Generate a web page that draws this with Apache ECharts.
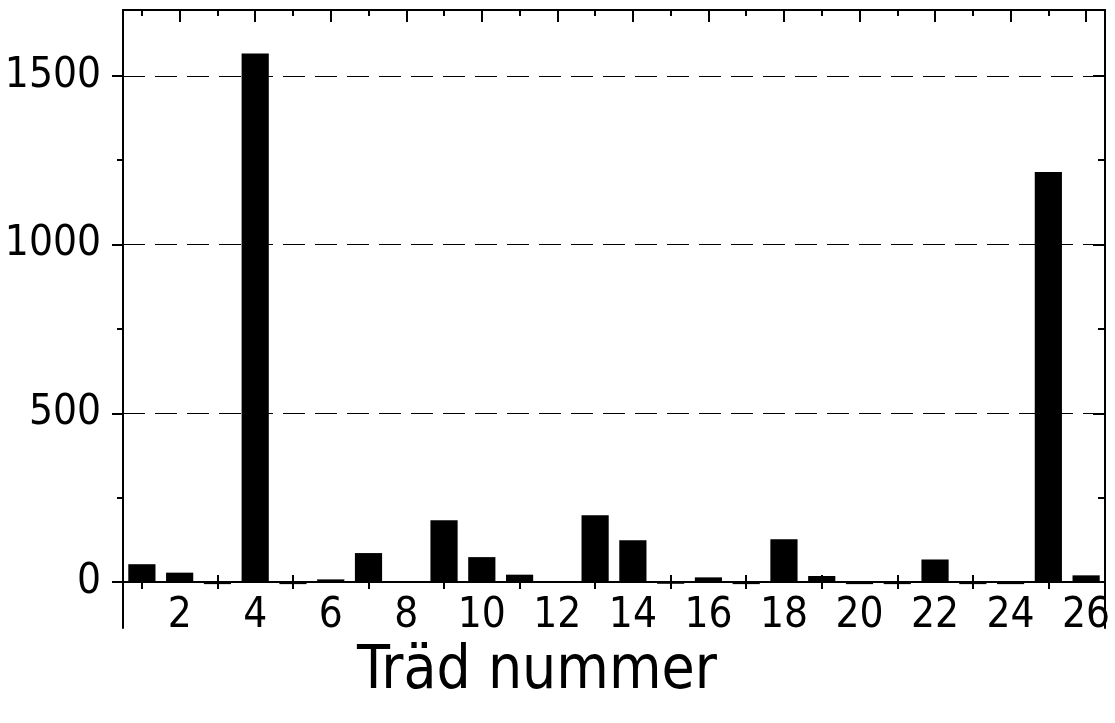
<!DOCTYPE html>
<html><head><meta charset="utf-8">
<script src="https://cdn.jsdelivr.net/npm/echarts@6/dist/echarts.min.js"></script>
<style>html,body{margin:0;padding:0;background:#fff}#c{width:1115px;height:723px}</style>
</head><body><div id="c"></div>
<script>
const categories = ['1','2','3','4','5','6','7','8','9','10','11','12','13','14','15','16','17','18','19','20','21','22','23','24','25','26'];
const values = [53, 28, -6, 1566, -6, 8, 86, -2, 183, 74, 22, -2, 198, 124, -5, 14, -6, 127, 18, -6, -6, 67, -6, -6, 1215, 20];
const yMajorTicks = [0, 500, 1000, 1500];
const yMinorTicks = [250, 750, 1250];
const gridValues = [500, 1000, 1500];
const xTitle = 'Träd nummer';
const yMin = -136, yMax = 1695;

const FONT = "'Liberation Sans Narrow', 'DejaVu Sans Condensed', sans-serif";
const black = '#000';
const chart = echarts.init(document.getElementById('c'), null, {renderer: 'canvas'});

const GRID_H = 618;
const zeroOffset = -Math.round(GRID_H * (0 - yMin) / (yMax - yMin));

function yAx(pos, showLine, ticks, len, inside, labels) {
  return {
    type: 'value', position: pos, min: yMin, max: yMax,
    axisLine: {show: showLine, onZero: false, lineStyle: {color: black, width: 2}},
    axisTick: {show: true, inside: inside, length: len, customValues: ticks, lineStyle: {color: black, width: 2}},
    axisLabel: labels ? {show: true, customValues: labels, margin: 22, color: black, fontSize: 42, fontFamily: FONT,
      formatter: (v) => String(v)} : {show: false},
    splitLine: {show: false}
  };
}
function xAx(pos, showLine, tickFn, len, inside, offset, labels) {
  return {
    type: 'category', data: categories, position: pos, boundaryGap: true, offset: offset,
    axisLine: {show: showLine, onZero: false, lineStyle: {color: black, width: 2}},
    axisTick: {show: true, alignWithLabel: true, inside: inside, length: len, interval: tickFn, lineStyle: {color: black, width: 2}},
    axisLabel: labels ? {show: true, interval: (i) => i % 2 === 1, margin: 13, color: black, fontSize: 42, fontFamily: FONT} : {show: false},
    splitLine: {show: false}
  };
}
const odd = (i) => i % 2 === 0;   // categories 1,3,5,...
const even = (i) => i % 2 === 1;  // categories 2,4,6,...

chart.setOption({
  animation: false,
  backgroundColor: '#fff',
  grid: {left: 123, right: 10, top: 10, bottom: 95, containLabel: false, outerBoundsMode: 'none'},
  xAxis: [
    xAx('bottom', true, odd, 7, true, zeroOffset, true),
    xAx('bottom', false, odd, 7, false, zeroOffset, false),
    xAx('top', true, even, 12, true, 0, false),
    xAx('top', false, odd, 6, true, 0, false)
  ],
  yAxis: [
    yAx('left', true, yMajorTicks, 11, false, yMajorTicks),
    yAx('left', false, yMinorTicks, 6, false, null),
    yAx('right', true, yMajorTicks, 12, true, null),
    yAx('right', false, yMinorTicks, 7, true, null)
  ],
  series: [{
    type: 'bar', xAxisIndex: 0, yAxisIndex: 0,
    data: values, barWidth: '72%',
    itemStyle: {color: black},
    markLine: {
      silent: true, symbol: 'none', label: {show: false},
      lineStyle: {color: black, width: 1, type: [22, 10]},
      data: gridValues.map(v => ({yAxis: v}))
    }
  }],
  graphic: [{
    type: 'text', x: 537, y: 672,
    style: {text: xTitle, fill: black, font: "60px " + FONT, textAlign: 'center', textVerticalAlign: 'middle'}
  }]
});
</script></body></html>
